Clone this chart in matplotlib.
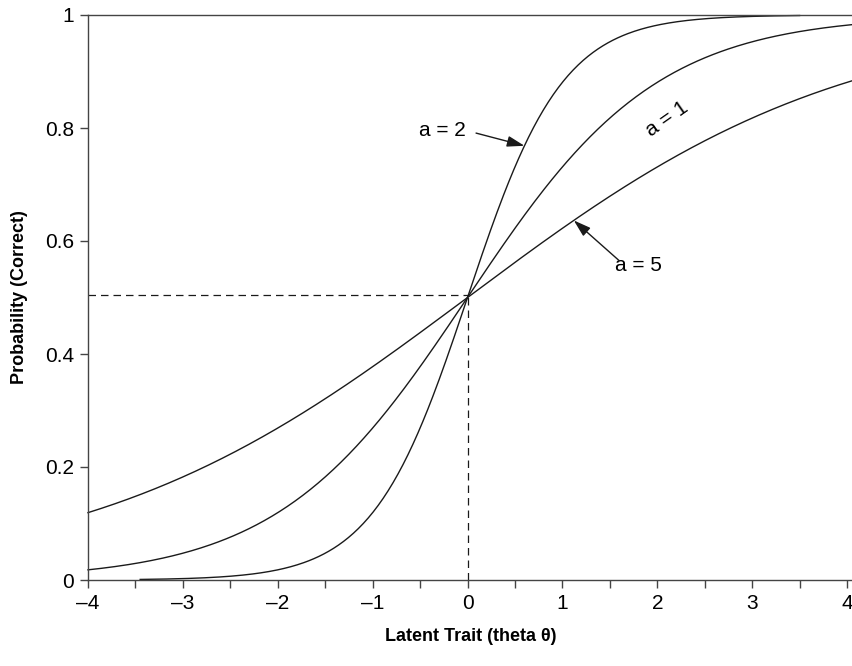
import numpy as np
import matplotlib
matplotlib.use("Agg")
import matplotlib.pyplot as plt

plt.rcParams['font.family'] = ['Liberation Sans', 'DejaVu Sans']

# Data
curve_labels = ["a = 2", "a = 1", "a = 5"]
slopes = [2.0, 1.0, 0.5]          # logistic slopes
curve_ranges = [(-3.45, 3.5), (-4.0, 4.06), (-4.0, 4.06)]
x_ticks = [-4, -3, -2, -1, 0, 1, 2, 3, 4]
x_tick_labels = ["–4", "–3", "–2", "–1", "0", "1", "2", "3", "4"]
y_ticks = [0, 0.2, 0.4, 0.6, 0.8, 1.0]
y_tick_labels = ["0", "0.2", "0.4", "0.6", "0.8", "1"]
ref_theta = 0.0
ref_prob = 0.505

def logistic(x, k):
    return 1.0 / (1.0 + np.exp(-k * x))

fig = plt.figure(figsize=(8.53, 6.66), dpi=100)
ax = fig.add_axes([88/853, 1-580/666, 1-88/853, (580-15)/666])

for k, (x0, x1) in zip(slopes, curve_ranges):
    xs = np.linspace(x0, x1, 400)
    ax.plot(xs, logistic(xs, k), color='#1a1a1a', lw=1.0, clip_on=False)

ax.plot([-4, ref_theta], [ref_prob, ref_prob], color='#1a1a1a', lw=0.9, ls=(0, (6, 4)))
ax.plot([ref_theta, ref_theta], [0, ref_prob], color='#1a1a1a', lw=0.9, ls=(0, (6, 4)))

ax.set_xlim(-4, 4.063)
ax.set_ylim(0, 1)

ax.spines['right'].set_visible(False)
for s in ['left', 'bottom', 'top']:
    ax.spines[s].set_color('#444444')
    ax.spines[s].set_linewidth(1.0)

ax.set_xticks(x_ticks)
ax.set_xticklabels(x_tick_labels)
ax.set_xticks(np.arange(-3.5, 4.0, 1.0), minor=True)
ax.set_yticks(y_ticks)
ax.set_yticklabels(y_tick_labels)
ax.tick_params(axis='both', which='both', direction='out', length=6, width=1.0,
               color='#444444', labelsize=15, pad=4)

ax.set_xlabel("Latent Trait (theta θ)", fontsize=13, fontweight='bold', labelpad=11)
ax.set_ylabel("Probability (Correct)", fontsize=13, fontweight='bold', labelpad=12)

arrow_style = dict(arrowstyle='-|>,head_length=0.7,head_width=0.22', color='#1a1a1a',
                   lw=1.0, shrinkA=0, shrinkB=0, mutation_scale=15)

# a = 2
ax.text(-0.27, 0.795, curve_labels[0], fontsize=15, ha='center', va='center')
xa = 0.6
ax.annotate('', xy=(xa, logistic(xa, slopes[0])), xytext=(0.09, 0.791), arrowprops=arrow_style)

# a = 1
ax.text(2.1, 0.815, curve_labels[1], fontsize=15, rotation=35, ha='center', va='center')

# a = 5
ax.text(1.8, 0.557, curve_labels[2], fontsize=15, ha='center', va='center')
xb = 1.12
ax.annotate('', xy=(xb, logistic(xb, slopes[2])), xytext=(1.6, 0.565), arrowprops=arrow_style)

fig.savefig("out.png", dpi=100)
